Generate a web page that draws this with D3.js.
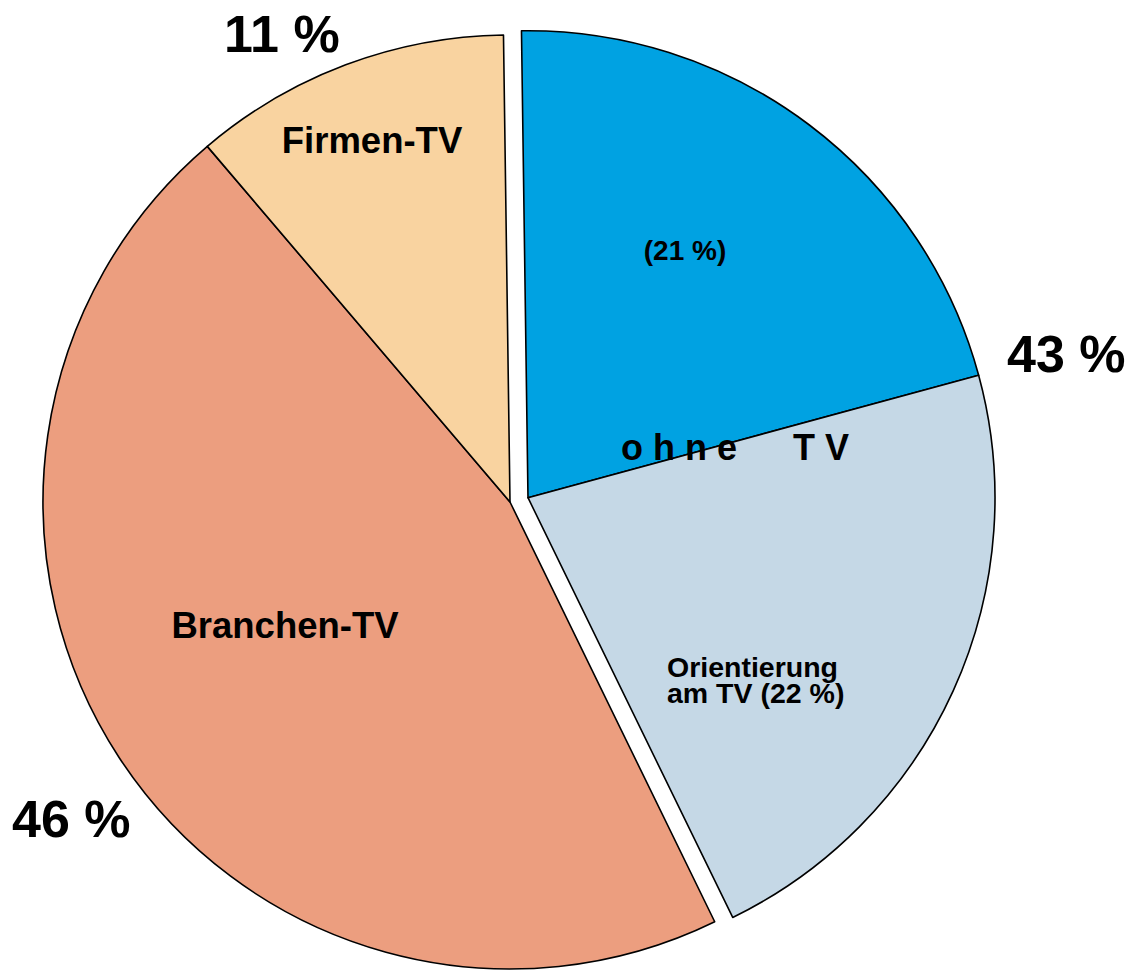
<!DOCTYPE html>
<html>
<head>
<meta charset="utf-8">
<script src="https://cdn.jsdelivr.net/npm/d3@7"></script>
<style>
  body { margin: 0; background: #fff; }
  text { font-family: "Liberation Sans", Arial, sans-serif; font-weight: bold; fill: #000; }
</style>
</head>
<body>
<script>
// slices in drawing order, clockwise from the top
var categories = ["ohne TV (21 %)", "Orientierung am TV", "Branchen-TV", "Firmen-TV"];
var shares = [21, 22, 46, 11];
var groups = ["ohne", "ohne", "branche", "firma"];
var colors = ["#00a2e2", "#c5d8e6", "#ec9e7f", "#f9d3a0"];

var width = 1141,
    height = 970,
    radius = 467,
    cx = 510,
    cy = 502,
    explode = 18.5,
    offset = -0.8 * Math.PI / 180; // the pie starts a hair left of 12 o'clock

var svg = d3.select("body")
            .append("svg")
            .attr("width", width)
            .attr("height", height);

var pie = d3.pie()
            .sort(null)
            .value(function(d) { return d; })
            .startAngle(offset)
            .endAngle(2 * Math.PI + offset);

var arcs = pie(shares);

var arc = d3.arc()
            .innerRadius(0)
            .outerRadius(radius);

// the two "ohne TV" slices are pulled out together along their common mid angle
var ohneArcs = arcs.filter(function(d, i) { return groups[i] == "ohne"; });
var ohneMid = (ohneArcs[0].startAngle + ohneArcs[ohneArcs.length - 1].endAngle) / 2;

var slices = svg.append("g")
            .attr("transform", "translate(" + cx + "," + cy + ")")
            .selectAll("path")
            .data(arcs)
            .enter()
            .append("path")
            .attr("d", arc)
            .attr("fill", function(d, i) { return colors[i]; })
            .attr("stroke", "#000")
            .attr("stroke-width", 1.6)
            .attr("stroke-linejoin", "round")
            .attr("transform", function(d, i) {
              if (groups[i] != "ohne") return null;
              var dx = Math.sin(ohneMid) * explode,
                  dy = -Math.cos(ohneMid) * explode;
              return "translate(" + dx + "," + dy + ")";
            });

// total percentages outside the pie
var totals = [
  {text: "11 %", x: 224, y: 52},
  {text: "43 %", x: 1007, y: 372},
  {text: "46 %", x: 12, y: 837}
];

svg.selectAll("text.total")
   .data(totals)
   .enter()
   .append("text")
   .attr("class", "total")
   .attr("x", function(d) { return d.x; })
   .attr("y", function(d) { return d.y; })
   .style("font-size", "52px")
   .text(function(d) { return d.text; });

// labels inside the slices
svg.append("text").attr("x", 372).attr("y", 153).attr("text-anchor", "middle")
   .style("font-size", "36.5px").text("Firmen-TV");
svg.append("text").attr("x", 285).attr("y", 638).attr("text-anchor", "middle")
   .style("font-size", "36.5px").text("Branchen-TV");
svg.append("text").attr("x", 685).attr("y", 260).attr("text-anchor", "middle")
   .style("font-size", "28px").text("(21 %)");

svg.append("text").attr("x", 667).attr("y", 677).style("font-size", "28.5px").text("Orientierung");
svg.append("text").attr("x", 667).attr("y", 703).style("font-size", "28.5px").text("am TV (22 %)");

svg.append("text").attr("x", 621).attr("y", 460)
   .style("font-size", "36px").style("letter-spacing", "10px").text("ohne");
svg.append("text").attr("x", 793).attr("y", 460)
   .style("font-size", "36px").style("letter-spacing", "10px").text("TV");
</script>
</body>
</html>
